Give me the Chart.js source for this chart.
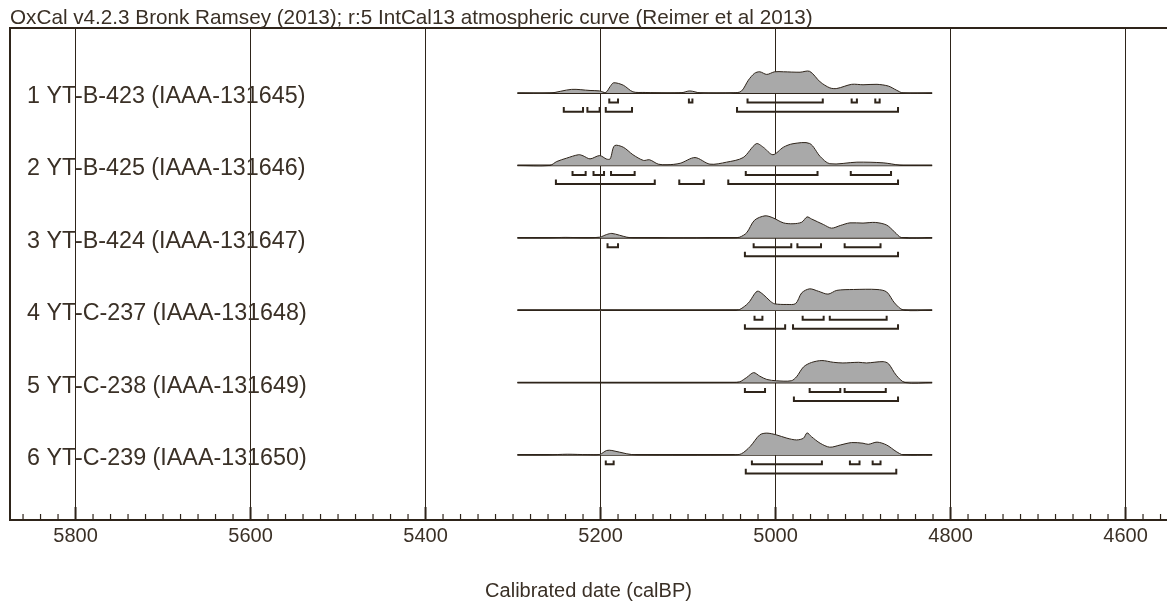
<!DOCTYPE html>
<html>
<head>
<meta charset="utf-8">
<script src="https://cdn.jsdelivr.net/npm/chart.js@4/dist/chart.umd.min.js"></script>
<style>
  html, body { margin: 0; padding: 0; background: #fff; }
  #wrap { width: 1167px; height: 608px; }
</style>
</head>
<body>
<div id="wrap"><canvas id="c"></canvas></div>
<script>
// header + axis text
const chartTitle = "OxCal v4.2.3 Bronk Ramsey (2013); r:5 IntCal13 atmospheric curve (Reimer et al 2013)";
const axisTitle = "Calibrated date (calBP)";
const majorTicks = [5800, 5600, 5400, 5200, 5000, 4800, 4600];

// sample names, top to bottom
const sampleLabels = [
  "1 YT-B-423 (IAAA-131645)",
  "2 YT-B-425 (IAAA-131646)",
  "3 YT-B-424 (IAAA-131647)",
  "4 YT-C-237 (IAAA-131648)",
  "5 YT-C-238 (IAAA-131649)",
  "6 YT-C-239 (IAAA-131650)"
];

// calibrated probability (relative, max = 1), calBP
const years1 = [5295, 5258, 5233, 5212, 5201, 5194, 5189, 5185, 5174, 5163, 5149, 5124, 5107, 5098, 5086, 5048, 5039, 5031, 5024, 5018, 5010, 5001, 4991, 4972, 4961, 4949, 4938, 4930, 4913, 4900, 4884, 4871, 4862, 4854, 4821];
const prob1  = [0, 0, 0.17, 0.12, 0.1, 0.03, 0.3, 0.47, 0.36, 0.06, 0.03, 0, 0.02, 0.1, 0.01, 0.01, 0.09, 0.59, 0.9, 0.97, 0.85, 0.97, 0.97, 0.95, 0.99, 0.51, 0.24, 0.21, 0.4, 0.38, 0.4, 0.32, 0.14, 0, 0];

const years2 = [5295, 5258, 5250, 5239, 5225, 5220, 5212, 5201, 5193, 5189, 5184, 5174, 5163, 5151, 5144, 5134, 5124, 5109, 5092, 5075, 5056, 5037, 5022, 5014, 5003, 4991, 4980, 4961, 4949, 4938, 4907, 4877, 4858, 4854, 4821];
const prob2  = [0, 0, 0.18, 0.33, 0.49, 0.44, 0.3, 0.45, 0.29, 0.3, 0.9, 0.83, 0.49, 0.23, 0.26, 0.06, 0.03, 0.1, 0.36, 0.06, 0.15, 0.36, 0.99, 0.83, 0.49, 0.83, 0.99, 1.0, 0.41, 0.08, 0.15, 0.12, 0.01, 0, 0];

const years3 = [5295, 5260, 5240, 5215, 5201, 5193, 5187, 5170, 5163, 5048, 5041, 5033, 5024, 5012, 5003, 4991, 4980, 4970, 4964, 4959, 4945, 4936, 4926, 4915, 4900, 4886, 4873, 4864, 4856, 4821];
const prob3  = [0, 0, 0.02, 0, 0.03, 0.15, 0.2, 0.03, 0, 0, 0.03, 0.23, 0.8, 1.0, 0.91, 0.68, 0.64, 0.71, 0.95, 0.86, 0.6, 0.44, 0.56, 0.68, 0.67, 0.7, 0.58, 0.27, 0.01, 0];

const years4 = [5295, 5202, 5200, 5198, 5048, 5041, 5031, 5021, 5014, 5006, 5001, 4987, 4977, 4970, 4961, 4951, 4940, 4930, 4911, 4884, 4873, 4864, 4854, 4821];
const prob4  = [0, 0, 0.02, 0, 0, 0.03, 0.33, 0.86, 0.71, 0.41, 0.29, 0.26, 0.3, 0.79, 0.97, 0.86, 0.73, 0.9, 0.94, 0.94, 0.83, 0.33, 0.01, 0];

const years5 = [5295, 5048, 5041, 5033, 5025, 5018, 5010, 4999, 4982, 4976, 4968, 4959, 4947, 4934, 4923, 4905, 4896, 4877, 4871, 4862, 4852, 4821];
const prob5  = [0, 0, 0.03, 0.23, 0.45, 0.29, 0.14, 0.08, 0.08, 0.26, 0.71, 0.91, 1.0, 0.92, 0.89, 0.92, 0.89, 0.95, 0.86, 0.33, 0, 0];

const years6 = [5295, 5260, 5238, 5215, 5201, 5193, 5187, 5170, 5159, 5048, 5039, 5029, 5018, 5010, 4999, 4987, 4976, 4968, 4964, 4959, 4949, 4938, 4926, 4913, 4900, 4894, 4884, 4873, 4862, 4854, 4821];
const prob6  = [0, 0, 0.03, 0.01, 0.02, 0.2, 0.2, 0.05, 0, 0, 0.05, 0.38, 0.91, 0.99, 0.91, 0.76, 0.68, 0.76, 1.0, 0.83, 0.53, 0.35, 0.45, 0.56, 0.53, 0.48, 0.58, 0.45, 0.15, 0, 0];

// 68.2% and 95.4% ranges [from, to] calBP
const range68_1 = [[5190, 5180], [5099, 5095], [5032, 4946], [4913, 4907], [4886, 4881]];
const range95_1 = [[5242, 5220], [5215, 5201], [5194, 5164], [5044, 4860]];
const range68_2 = [[5232, 5217], [5208, 5196], [5188, 5161], [5034, 4952], [4914, 4868]];
const range95_2 = [[5251, 5138], [5110, 5082], [5054, 4860]];
const range68_3 = [[5192, 5180], [5025, 4982], [4975, 4948], [4921, 4880]];
const range95_3 = [[5035, 4860]];
const range68_4 = [[5024, 5015], [4969, 4945], [4938, 4873]];
const range95_4 = [[5035, 4989], [4980, 4860]];
const range68_5 = [[5035, 5012], [4961, 4926], [4921, 4874]];
const range95_5 = [[4979, 4860]];
const range68_6 = [[5194, 5185], [5027, 4947], [4915, 4904], [4889, 4880]];
const range95_6 = [[5034, 4862]];

const rows = [
  { years: years1, prob: prob1, r68: range68_1, r95: range95_1 },
  { years: years2, prob: prob2, r68: range68_2, r95: range95_2 },
  { years: years3, prob: prob3, r68: range68_3, r95: range95_3 },
  { years: years4, prob: prob4, r68: range68_4, r95: range95_4 },
  { years: years5, prob: prob5, r68: range68_5, r95: range95_5 },
  { years: years6, prob: prob6, r68: range68_6, r95: range95_6 }
];

const ink = "#2e241a";
const textInk = "#3a3026";
const grey = "#a9a9a9";
const fontFam = '"Liberation Sans", Arial, Helvetica, sans-serif';

// one y unit = one row
const peakH = 0.304;
const xMin = 4552.6, xMax = 5874.9;
const plotStart = 5295, plotEnd = 4821;

function rowBase(i) { return 5.9 - i; }

function bracketData(ranges, base, lineOff, tipOff) {
  const pts = [];
  ranges.forEach(r => {
    pts.push({ x: r[0], y: base + tipOff });
    pts.push({ x: r[0], y: base + lineOff });
    pts.push({ x: r[1], y: base + lineOff });
    pts.push({ x: r[1], y: base + tipOff });
    pts.push({ x: r[1], y: null });
  });
  return pts;
}

const datasets = [];
rows.forEach((row, i) => {
  const base = rowBase(i);
  datasets.push({
    data: row.years.map((y, k) => ({ x: y, y: base + row.prob[k] * peakH })),
    borderColor: ink,
    borderWidth: 1,
    backgroundColor: grey,
    fill: { value: base },
    tension: 0.3,
    pointRadius: 0
  });
  datasets.push({
    data: [{ x: plotStart, y: base }, { x: plotEnd, y: base }],
    borderColor: ink,
    borderWidth: 1.8,
    fill: false,
    pointRadius: 0
  });
  datasets.push({
    data: bracketData(row.r68, base, -0.131, -0.076),
    borderColor: ink,
    borderWidth: 2,
    fill: false,
    pointRadius: 0,
    spanGaps: false
  });
  datasets.push({
    data: bracketData(row.r95, base, -0.256, -0.193),
    borderColor: ink,
    borderWidth: 2,
    fill: false,
    pointRadius: 0,
    spanGaps: false
  });
});

const extras = {
  id: "extras",
  afterDraw(chart) {
    const { ctx, chartArea: a, scales } = chart;
    const xs = scales.x, ys = scales.y;
    ctx.save();
    // frame: top + left
    ctx.strokeStyle = ink;
    ctx.lineWidth = 2;
    ctx.beginPath();
    ctx.moveTo(a.left, a.bottom);
    ctx.lineTo(a.left, a.top);
    ctx.lineTo(chart.width, a.top);
    ctx.stroke();
    // inward ticks
    for (let v = 4560; v <= 5860; v += 20) {
      const px = xs.getPixelForValue(v);
      const major = v % 200 === 0;
      ctx.lineWidth = major ? 2 : 1.2;
      ctx.beginPath();
      ctx.moveTo(px, a.bottom);
      ctx.lineTo(px, a.bottom - (major ? 13 : 6));
      ctx.stroke();
    }
    // header
    ctx.fillStyle = textInk;
    ctx.textBaseline = "alphabetic";
    ctx.textAlign = "left";
    ctx.font = "20.7px " + fontFam;
    ctx.fillText(chartTitle, 10, 24);
    // sample names
    ctx.font = "23.3px " + fontFam;
    sampleLabels.forEach((s, i) => {
      ctx.fillText(s, 27, ys.getPixelForValue(rowBase(i)) + 10);
    });
    ctx.restore();
  }
};

new Chart(document.getElementById("c"), {
  type: "line",
  data: { datasets: datasets },
  options: {
    responsive: true,
    maintainAspectRatio: false,
    animation: false,
    devicePixelRatio: 1,
    layout: { padding: { left: 10, top: 28, right: 0, bottom: 0 } },
    plugins: { legend: { display: false }, tooltip: { enabled: false }, title: { display: false } },
    scales: {
      x: {
        type: "linear",
        reverse: true,
        min: xMin,
        max: xMax,
        afterBuildTicks: s => {
          const t = [];
          for (let v = 4560; v <= 5860; v += 20) t.push({ value: v });
          s.ticks = t;
        },
        afterFit: s => { s.height = 88; },
        ticks: {
          autoSkip: false,
          maxRotation: 0,
          padding: 4,
          color: textInk,
          font: { family: fontFam, size: 20 },
          callback: v => majorTicks.includes(v) ? String(v) : ""
        },
        grid: {
          drawTicks: false,
          lineWidth: 1,
          color: c => (c.tick && majorTicks.includes(c.tick.value)) ? ink : "rgba(0,0,0,0)"
        },
        border: { color: ink, width: 2 },
        title: {
          display: true,
          text: axisTitle,
          color: textInk,
          font: { family: fontFam, size: 20 },
          padding: { top: 0, bottom: 5 }
        }
      },
      y: { type: "linear", display: false, min: 0, max: 6.8 }
    }
  },
  plugins: [extras]
});
</script>
</body>
</html>
